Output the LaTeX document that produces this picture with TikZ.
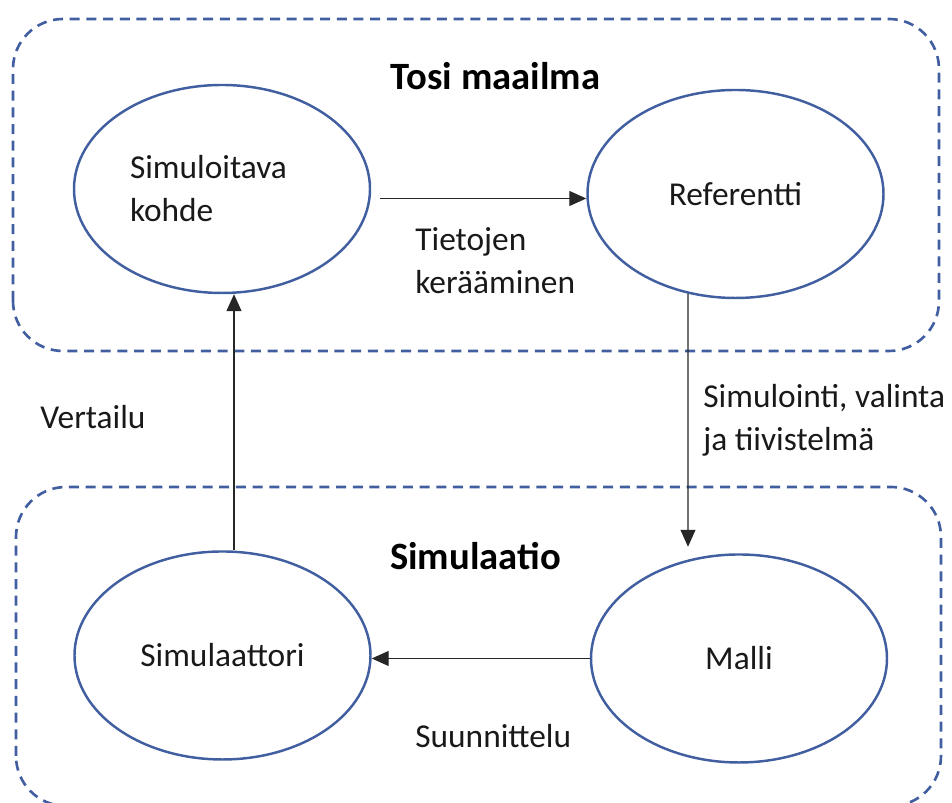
\documentclass[tikz,border=0pt]{standalone}
\usepackage{fontspec}
\setmainfont{Carlito}
\usetikzlibrary{arrows.meta,shapes.geometric}
\definecolor{kehys}{RGB}{65,95,160}
\definecolor{teksti}{RGB}{25,25,25}

\begin{document}
\begin{tikzpicture}[font=\fontsize{19}{24.5}\selectfont,text=teksti]
\tikzstyle{freccia} = [-{Triangle[length=0.34cm,width=0.3cm]}, draw=black!85, line width=0.7pt]
\tikzstyle{pallo} = [ellipse, draw=kehys, line width=1.4pt, minimum width=5.92cm, minimum height=4.16cm, inner sep=0pt]
\tikzstyle{alue} = [draw=kehys, line width=1.5pt, dash pattern=on 5.7pt off 3.8pt, rounded corners=1cm]
\tikzstyle{otsikko} = [font=\fontsize{22}{26}\selectfont\bfseries, text=black]
\tikzstyle{selite} = [anchor=west, align=left, inner xsep=0pt]
\useasboundingbox (0,0) rectangle (19.04,16.06);
% laatikot
\draw[alue] (0.26,9.04) rectangle (18.78,15.68);
\draw[alue] (0.32,-0.06) rectangle (18.82,6.32);
\node[otsikko] (tosi) at (9.91,14.54) {Tosi maailma};
\node[otsikko] (sim) at (9.51,4.94) {Simulaatio};
% ellipsit
\node[pallo, text width=3.68cm, align=left] (kohde) at (4.44,12.28) {Simuloitava\\kohde};
\node[pallo] (referentti) at (14.71,12.18) {Referentti};
\node[pallo] (simulaattori) at (4.45,2.95) {Simulaattori};
\node[pallo] (malli) at (14.78,2.89) {Malli};
% nuolet
\draw[freccia] ([shift={(0.18,-0.19)}]kohde.east) -- ([yshift=-0.09cm]referentti.west);
\draw[freccia] ([shift={(-0.95,0.11)}]referentti.south) -- ([shift={(-1.02,0.13)}]malli.north);
\draw[freccia] (malli.west) -- (malli.west -| simulaattori.east);
\draw[freccia] ([xshift=0.23cm]simulaattori.north) -- ([xshift=0.23cm]simulaattori.north |- kohde.south);
% nuolten tekstit
\node[selite] (keruu) at (8.3,10.85) {Tietojen\\kerääminen};
\node[selite] (valinta) at (14.06,7.66) {Simulointi, valinta\\ja tiivistelmä};
\node[selite] (vertailu) at (0.8,7.72) {Vertailu};
\node[selite] (suunnittelu) at (8.3,1.34) {Suunnittelu};
\end{tikzpicture}
\end{document}
